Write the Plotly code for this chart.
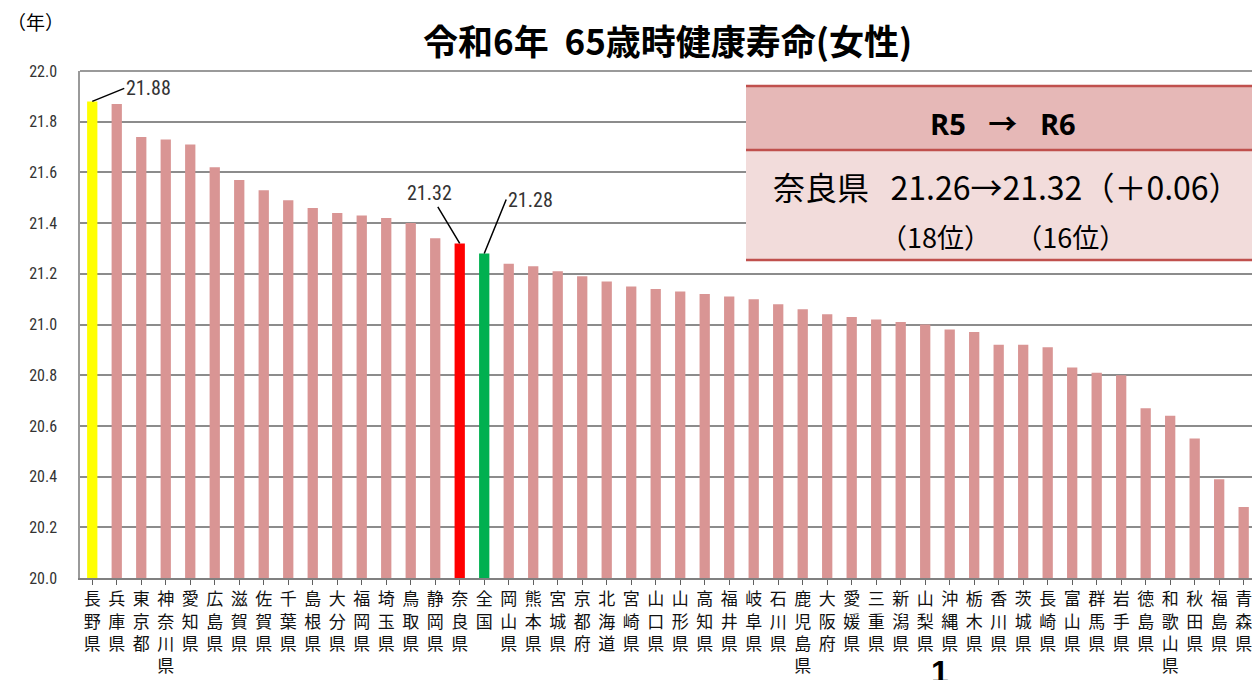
import plotly.graph_objects as go

prefectures = ["長野県","兵庫県","東京都","神奈川県","愛知県","広島県","滋賀県","佐賀県","千葉県","島根県",
               "大分県","福岡県","埼玉県","鳥取県","静岡県","奈良県","全国","岡山県","熊本県","宮城県",
               "京都府","北海道","宮崎県","山口県","山形県","高知県","福井県","岐阜県","石川県","鹿児島県",
               "大阪府","愛媛県","三重県","新潟県","山梨県","沖縄県","栃木県","香川県","茨城県","長崎県",
               "富山県","群馬県","岩手県","徳島県","和歌山県","秋田県","福島県","青森県"]
values = [21.88,21.87,21.74,21.73,21.71,21.62,21.57,21.53,21.49,21.46,
          21.44,21.43,21.42,21.40,21.34,21.32,21.28,21.24,21.23,21.21,
          21.19,21.17,21.15,21.14,21.13,21.12,21.11,21.10,21.08,21.06,
          21.04,21.03,21.02,21.01,21.00,20.98,20.97,20.92,20.92,20.91,
          20.83,20.81,20.80,20.67,20.64,20.55,20.39,20.28]
y_ticks = [20.0,20.2,20.4,20.6,20.8,21.0,21.2,21.4,21.6,21.8,22.0]

BAR = "#d99594"
colors = []
for p in prefectures:
    if p == "長野県":
        colors.append("#ffff00")
    elif p == "奈良県":
        colors.append("#ff0000")
    elif p == "全国":
        colors.append("#00b050")
    else:
        colors.append(BAR)

idx = list(range(len(prefectures)))
ticktext = ["<br>".join(list(p)) for p in prefectures]

W, H = 1252, 680
L, T = 80, 71
B = H - 578
R = 0
pw, ph = W - L - R, H - T - B

def px(x):  # page pixel -> paper
    return (x - L) / pw

def py(y):
    return (H - B - y) / ph

fig = go.Figure()
fig.add_trace(go.Bar(x=idx, y=values, marker=dict(color=colors, line=dict(width=0)),
                     width=0.42, hoverinfo="x+y"))

NUMFONT = "Liberation Sans Narrow, Roboto Condensed, DejaVu Sans Condensed, Roboto, sans-serif"

fig.update_layout(
    width=W, height=H,
    margin=dict(l=L, r=R, t=T, b=B, pad=0),
    paper_bgcolor="white", plot_bgcolor="white",
    showlegend=False,
    font=dict(family="Noto Sans CJK JP", color="#000000"),
)
fig.update_xaxes(
    range=[-0.5, 47.34],
    tickmode="array", tickvals=idx, ticktext=ticktext,
    tickfont=dict(family="Noto Sans CJK JP", size=17, color="#111111"),
    tickangle=0, ticklabeloverflow="allow",
    showline=True, linecolor="#808080", linewidth=2,
    ticks="outside", tickson="boundaries", ticklen=5, tickcolor="#606060",
    showgrid=False, mirror=False,
)
fig.update_yaxes(
    range=[20.0, 22.0],
    tickmode="array", tickvals=y_ticks, ticktext=[f"{v:.1f}" for v in y_ticks],
    tickfont=dict(family=NUMFONT, size=16, color="#333333"),
    showgrid=True, gridcolor="#8c8c8c", gridwidth=1.6,
    showline=True, linecolor="#9a9a9a", linewidth=1.5,
    ticks="", ticklabelstandoff=18,
)
# top frame line
fig.add_shape(type="line", xref="paper", yref="paper", x0=0, x1=1, y0=1, y1=1,
              line=dict(color="#9a9a9a", width=2))

# info box
fig.add_shape(type="rect", xref="paper", yref="paper", x0=px(746), x1=px(1262), y0=py(150), y1=py(86),
              fillcolor="#e6b8b7", line=dict(width=0), layer="above")
fig.add_shape(type="rect", xref="paper", yref="paper", x0=px(746), x1=px(1262), y0=py(260), y1=py(150),
              fillcolor="#f2dcdb", line=dict(width=0), layer="above")
for yy in [86, 150, 260]:
    fig.add_shape(type="line", xref="paper", yref="paper", x0=px(746), x1=px(1262), y0=py(yy), y1=py(yy),
                  line=dict(color="#c0504d", width=2.5), layer="above")

def txt(x, y, text, size, family="Noto Sans CJK JP", xanchor="center"):
    fig.add_annotation(xref="paper", yref="paper", x=px(x), y=py(y), text=text, showarrow=False,
                       xanchor=xanchor, yanchor="middle",
                       font=dict(family=family, size=size, color="#000000"))

txt(1003, 124, "<b>R5&nbsp;&nbsp;&nbsp;→&nbsp;&nbsp;&nbsp;R6</b>", 29, family="Open Sans, Noto Sans CJK JP")
txt(1007, 186, "奈良県&nbsp;&nbsp;&nbsp;21.26→21.32（＋0.06）", 32)
txt(1003, 236, "（18位）&nbsp;&nbsp;&nbsp;&nbsp;（16位）", 27)

# title & unit
txt(667, 40, "<b>令和6年&nbsp;&nbsp;65歳時健康寿命(女性)</b>", 35)
txt(35, 22, "（年）", 19)
txt(940, 672, "<b>1</b>", 32, family="Liberation Sans")

# value labels
lab_font = dict(family=NUMFONT, size=20, color="#333333")
i0 = prefectures.index("長野県")
fig.add_annotation(x=i0, y=values[i0], text="21.88", showarrow=True, arrowhead=0, arrowwidth=1.5,
                   arrowcolor="#000000", ax=32, ay=-13, xanchor="left", yanchor="middle", font=lab_font)
i1 = prefectures.index("奈良県")
fig.add_annotation(x=i1, y=values[i1], text="21.32", showarrow=True, arrowhead=0, arrowwidth=1.5,
                   arrowcolor="#000000", ax=-30, ay=-50, xanchor="center", yanchor="middle", font=lab_font)
i2 = prefectures.index("全国")
fig.add_annotation(x=i2, y=values[i2], text="21.28", showarrow=True, arrowhead=0, arrowwidth=1.5,
                   arrowcolor="#000000", ax=22, ay=-54, xanchor="left", yanchor="middle", font=lab_font)

fig.write_html("out.html", config={"displayModeBar": False},
               post_script="document.body.style.margin='0';document.body.style.overflow='hidden';")
